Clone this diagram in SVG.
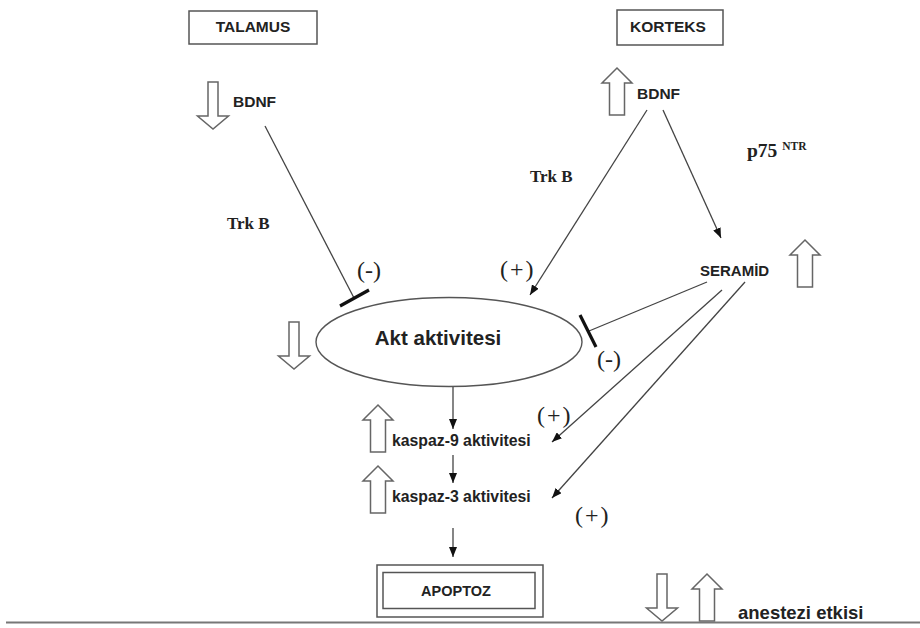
<svg xmlns="http://www.w3.org/2000/svg" width="920" height="628" viewBox="0 0 920 628">
<style>
.sans{font-family:"Liberation Sans",Arial,sans-serif;font-weight:bold;fill:#222}
.serif{font-family:"Liberation Serif","Times New Roman",serif;fill:#222}
.box{fill:#fff;stroke:#555;stroke-width:1.5}
.ln{stroke:#444;stroke-width:1.3;fill:none}
.bar{stroke:#111;stroke-width:3.2;stroke-linecap:butt}
.harrow{fill:#fff;stroke:#666;stroke-width:1.5;stroke-linejoin:miter}
</style>
<defs>
<marker id="ah" markerUnits="userSpaceOnUse" markerWidth="10" markerHeight="8" refX="10" refY="4" orient="auto">
<path d="M0,0 L10,4 L0,8 Z" fill="#111"/>
</marker>
<path id="down" d="M-5,0 H5 V34 H15.5 L0,47 L-15.5,34 H-5 Z"/>
<path id="up" d="M-7.5,47 H7.5 V15 H15 L0,0 L-15,15 H-7.5 Z"/>
</defs>
<rect width="920" height="628" fill="#fff"/>

<g id="talamus">
<rect class="box" x="189" y="11" width="128" height="33"/>
<text class="sans" x="253" y="32" font-size="15.5" text-anchor="middle">TALAMUS</text>
</g>
<g id="korteks">
<rect class="box" x="617" y="10" width="106" height="35"/>
<text class="sans" x="668" y="32" font-size="15.5" text-anchor="middle">KORTEKS</text>
</g>
<g id="bdnf-talamus">
<use href="#down" class="harrow" x="213" y="82"/>
<text class="sans" x="233" y="107" font-size="15.5">BDNF</text>
</g>
<g id="bdnf-korteks">
<use href="#up" class="harrow" x="617" y="68"/>
<text class="sans" x="637" y="99" font-size="15.5">BDNF</text>
</g>
<g id="trkb-left">
<text class="serif" x="227" y="229" font-size="17" font-weight="bold">Trk B</text>
</g>
<g id="trkb-right">
<text class="serif" x="530" y="182" font-size="17" font-weight="bold">Trk B</text>
</g>
<g id="p75">
<text class="serif" x="747" y="157" font-size="19.5" font-weight="bold">p75 <tspan font-size="11.5" dy="-7">NTR</tspan></text>
</g>
<g id="seramid">
<text class="sans" x="700" y="276" font-size="15">SERAMİD</text>
<use href="#up" class="harrow" x="805" y="240"/>
</g>
<g id="akt">
<ellipse cx="449" cy="342" rx="133" ry="44.5" fill="#fff" stroke="#555" stroke-width="1.4"/>
<text class="sans" x="438" y="345" font-size="20.5" text-anchor="middle">Akt aktivitesi</text>
<use href="#down" class="harrow" x="294" y="322"/>
</g>
<g id="kaspaz9">
<use href="#up" class="harrow" x="378" y="405"/>
<text class="sans" x="392" y="446" font-size="15.8">kaspaz-9 aktivitesi</text>
</g>
<g id="kaspaz3">
<use href="#up" class="harrow" x="378" y="466"/>
<text class="sans" x="392" y="502" font-size="15.8">kaspaz-3 aktivitesi</text>
</g>
<g id="apoptoz">
<rect class="box" x="377" y="565" width="166" height="52"/>
<rect class="box" x="383" y="572.5" width="152" height="36"/>
<text class="sans" x="456" y="596" font-size="14.5" text-anchor="middle">APOPTOZ</text>
</g>
<g id="legend">
<use href="#down" class="harrow" x="662" y="574"/>
<use href="#up" class="harrow" x="707" y="574"/>
<text class="sans" x="738" y="619" font-size="18.5">anestezi etkisi</text>
</g>

<g id="connectors">
<line class="ln" x1="265" y1="126" x2="354" y2="298"/>
<line class="bar" x1="340" y1="306" x2="369" y2="290"/>
<line class="ln" x1="647" y1="110" x2="530" y2="295" marker-end="url(#ah)"/>
<line class="ln" x1="663" y1="110" x2="721" y2="238" marker-end="url(#ah)"/>
<line class="ln" x1="707" y1="282" x2="589" y2="331"/>
<line class="bar" x1="580" y1="315" x2="596" y2="347"/>
<line class="ln" x1="722" y1="290" x2="552" y2="442" marker-end="url(#ah)"/>
<line class="ln" x1="745" y1="282" x2="552" y2="498" marker-end="url(#ah)"/>
<line class="ln" x1="453" y1="387" x2="453" y2="429" marker-end="url(#ah)"/>
<line class="ln" x1="453" y1="455" x2="453" y2="483" marker-end="url(#ah)"/>
<line class="ln" x1="453" y1="528" x2="453" y2="557" marker-end="url(#ah)"/>
</g>

<g id="signs">
<text class="serif" x="357" y="278" font-size="24">(-)</text>
<text class="serif" x="500" y="277" font-size="24" letter-spacing="2">(+)</text>
<text class="serif" x="597" y="367" font-size="24">(-)</text>
<text class="serif" x="537" y="423" font-size="24" letter-spacing="2">(+)</text>
<text class="serif" x="575" y="523" font-size="24" letter-spacing="2">(+)</text>
</g>

<line x1="6" y1="622.5" x2="920" y2="622.5" stroke="#777" stroke-width="2"/>
</svg>
